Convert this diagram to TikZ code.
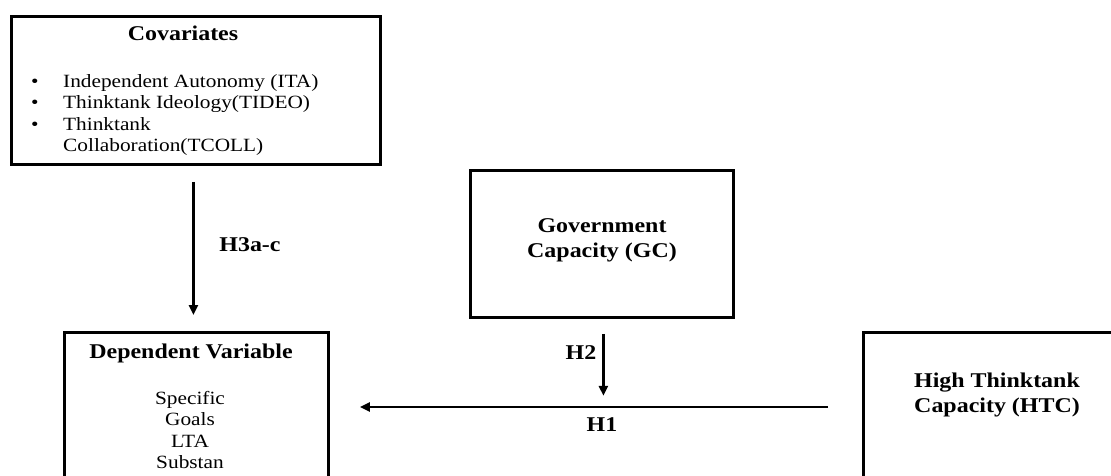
\documentclass[tikz,border=0pt]{standalone}
\usepackage{fontspec}
\setmainfont[FakeStretch=1.14]{Liberation Serif}
\usetikzlibrary{arrows.meta,calc}
\begin{document}
\begin{tikzpicture}[x=1pt,y=-1pt,
 box/.style={draw, line width=2.8pt, inner sep=0pt, anchor=north west},
 arr/.style={line width=2.4pt, -{Triangle[length=10pt,width=9pt]}},
 ttl/.style={font=\fontsize{21}{25}\selectfont\bfseries, align=center, inner sep=0pt},
 body/.style={font=\fontsize{18.7}{21.6}\selectfont, inner sep=0pt},
 lbl/.style={font=\fontsize{21}{24}\selectfont\bfseries, inner sep=0pt},
]
\useasboundingbox (0,0) rectangle (1111,476);
\clip (0,0) rectangle (1111,476);
% boxes
\node[box, minimum width=369pt, minimum height=148pt] (cov) at (10,15) {};
\node[box, minimum width=264pt, minimum height=200pt] (dep) at (63,331) {};
\node[box, minimum width=263pt, minimum height=147pt] (gc) at (469,169) {};
\node[box, minimum width=300pt, minimum height=200pt] (htc) at (862,331) {};
% texts
\node[ttl] (covt) at (183,33) {Covariates};
\node[body, anchor=west, align=left] (covl) at (31,115) {%
\makebox[32pt][l]{\textbullet}Independent Autonomy (ITA)\\
\makebox[32pt][l]{\textbullet}Thinktank Ideology(TIDEO)\\
\makebox[32pt][l]{\textbullet}Thinktank\\
\makebox[32pt][l]{}Collaboration(TCOLL)};
\node[ttl] (dept) at (191,353) {Dependent Variable};
\node[body, align=center] (depl) at (190,430) {Specific\\Goals\\LTA\\Substan};
\node[ttl] (gct) at (602,240) {Government\\Capacity (GC)};
\node[ttl] (htct) at (997,395) {High Thinktank\\Capacity (HTC)};
% connectors
\draw[arr] ($(cov.south)+(-2.5,16)$) -- ($(dep.north)+(-3,-16)$);
\node[lbl] (h3) at (250,245) {H3a-c};
\draw[arr] ($(gc.south)+(1.5,15)$) -- ($(gc.south)+(1.5,77)$);
\node[lbl] (h2) at (581,353) {H2};
\draw[arr] ($(htc.north west)+(-34,76)$) -- ($(dep.north east)+(30,76)$);
\node[lbl] (h1) at (602,425) {H1};
\end{tikzpicture}
\end{document}
